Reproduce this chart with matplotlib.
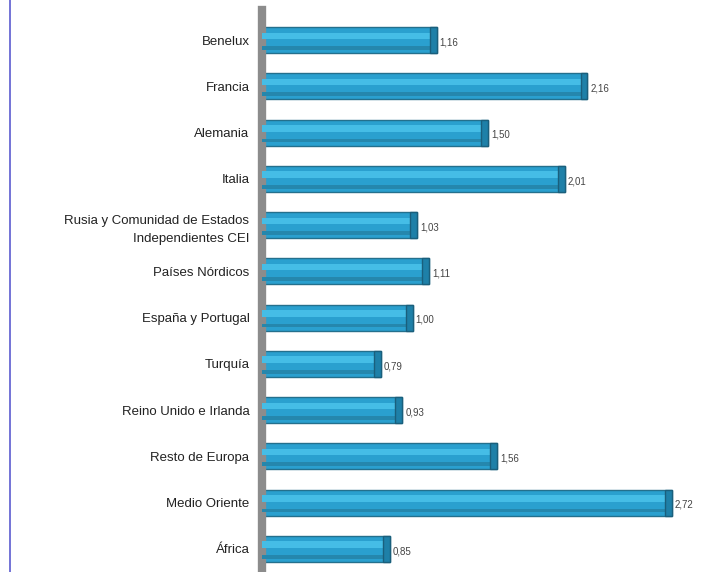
import matplotlib
matplotlib.use("Agg")
import matplotlib.pyplot as plt
from matplotlib.lines import Line2D

plt.rcParams['font.family'] = ['Liberation Sans', 'DejaVu Sans']

categories = ["Benelux", "Francia", "Alemania", "Italia",
              "Rusia y Comunidad de Estados\nIndependientes CEI",
              "Países Nórdicos", "España y Portugal", "Turquía",
              "Reino Unido e Irlanda", "Resto de Europa", "Medio Oriente", "África"]
values = [1.16, 2.16, 1.50, 2.01, 1.03, 1.11, 1.00, 0.79, 0.93, 1.56, 2.72, 0.85]
value_labels = ["1,16", "2,16", "1,50", "2,01", "1,03", "1,11", "1,00", "0,79",
                "0,93", "1,56", "2,72", "0,85"]

W, H = 717, 572
fig = plt.figure(figsize=(W / 100, H / 100), dpi=100)
fig.patch.set_facecolor("white")

ax_left = 262 / W
ax_right = 714 / W
ax_top = 1 - 10 / H
ax = fig.add_axes([ax_left, 0.0, ax_right - ax_left, ax_top])

pos = list(range(len(categories)))
bh = 0.56
ax.barh(pos, values, height=bh, color="#2aa0cf", edgecolor="#24708d", linewidth=1.0, zorder=2)
# highlight stripes
ax.barh([p - 0.09 for p in pos], values, height=0.14, color="#45bde6", linewidth=0, zorder=3)
ax.barh([p + 0.17 for p in pos], values, height=0.08, color="#2587ad", linewidth=0, zorder=3)
# end caps
cap = 0.045
ax.barh(pos, [cap] * len(values), left=[v - cap for v in values], height=bh,
        color="#1e80a8", edgecolor="#1a5f7c", linewidth=1.0, zorder=4)

for p, v, lab in zip(pos, values, value_labels):
    ax.text(v + 0.02, p + 0.05, lab, va="center", ha="left", fontsize=7, color="#444444", zorder=5)

ax.set_xlim(0, 3.0)
ax.set_ylim(11.5, -0.65)
ax.set_yticks(pos)
ax.set_yticklabels(categories, fontsize=9.5, color="#222222", linespacing=1.7)
ax.tick_params(axis="y", length=3, width=1, color="#555555", pad=6)
ax.set_xticks([])
for s in ["top", "right", "bottom"]:
    ax.spines[s].set_visible(False)
ax.spines["left"].set_color("#8c8c8c")
ax.spines["left"].set_linewidth(6)

# left blue border line
fig.add_artist(Line2D([10 / W, 10 / W], [0, 1], color="#5b5bd0", linewidth=1.2))

fig.savefig("out.png", dpi=100, facecolor="white")
